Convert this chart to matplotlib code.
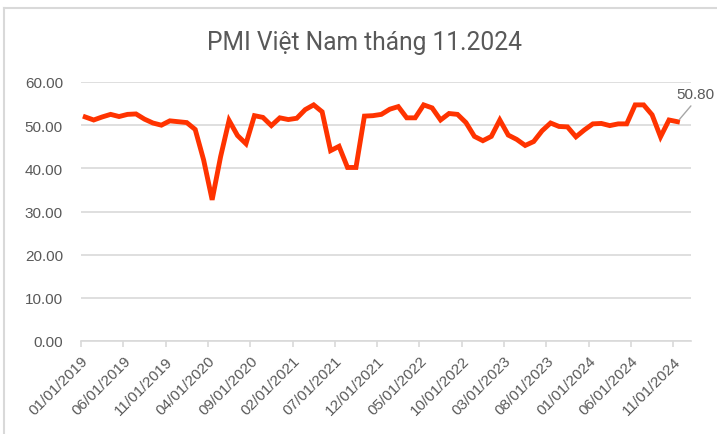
import matplotlib
matplotlib.use("Agg")
import matplotlib.pyplot as plt
from matplotlib.lines import Line2D
import numpy as np

# Monthly PMI values, 01/2019 .. 11/2024
pmi_2019 = [51.9, 51.2, 51.9, 52.5, 52.0, 52.5, 52.6, 51.4, 50.5, 50.0, 51.0, 50.8]
pmi_2020 = [50.6, 49.0, 41.9, 32.7, 42.7, 51.1, 47.6, 45.7, 52.2, 51.8, 49.9, 51.7]
pmi_2021 = [51.3, 51.6, 53.6, 54.7, 53.1, 44.1, 45.1, 40.2, 40.2, 52.1, 52.2, 52.5]
pmi_2022 = [53.7, 54.3, 51.7, 51.7, 54.7, 54.0, 51.2, 52.7, 52.5, 50.6, 47.4, 46.4]
pmi_2023 = [47.4, 51.2, 47.7, 46.7, 45.3, 46.2, 48.7, 50.5, 49.7, 49.6, 47.3, 48.9]
pmi_2024 = [50.3, 50.4, 49.9, 50.3, 50.3, 54.7, 54.7, 52.4, 47.3, 51.2, 50.8]
values = pmi_2019 + pmi_2020 + pmi_2021 + pmi_2022 + pmi_2023 + pmi_2024

tick_labels = ["01/01/2019", "06/01/2019", "11/01/2019", "04/01/2020", "09/01/2020",
               "02/01/2021", "07/01/2021", "12/01/2021", "05/01/2022", "10/01/2022",
               "03/01/2023", "08/01/2023", "01/01/2024", "06/01/2024", "11/01/2024"]
title = "PMI Việt Nam tháng 11.2024"
last_label = "50.80"

# each month is plotted in the middle of its date bin (Excel date axis)
x = np.arange(len(values)) + 0.5

fig = plt.figure(figsize=(7.17, 4.35), dpi=100)
ax = fig.add_axes([81/717, 1 - 342/435, (691 - 81)/717, (342 - 83)/435])

grey_txt = "#595959"
grid_c = "#D9D9D9"

ax.plot(x, values, color="#FF3300", lw=3.5, solid_joinstyle="miter", zorder=3)

ax.set_xlim(0, 72.1)
ax.set_ylim(0, 60)
ax.set_yticks(np.arange(0, 61, 10))
ax.set_yticklabels([f"{v:.2f}" for v in np.arange(0, 61, 10)])
ax.yaxis.grid(True, color=grid_c, lw=1.2)
ax.set_axisbelow(True)
ax.tick_params(axis="y", length=0, pad=13, labelsize=11, labelcolor=grey_txt)

ax.set_xticks(np.arange(0, 71, 5))
ax.set_xticklabels(tick_labels, rotation=45, ha="right", rotation_mode="anchor")
ax.tick_params(axis="x", length=4, width=1.2, color=grid_c, pad=5,
               labelsize=11, labelcolor=grey_txt)

for s in ["top", "right", "left"]:
    ax.spines[s].set_visible(False)
ax.spines["bottom"].set_color(grid_c)
ax.spines["bottom"].set_linewidth(1.2)

for lab in ax.get_xticklabels() + ax.get_yticklabels():
    lab.set_fontfamily(["Liberation Sans", "DejaVu Sans"])

# data label for the last point
ax.annotate(last_label, xy=(x[-1], values[-1]), xycoords="data",
            xytext=(676/717, 1 - 95/435), textcoords="figure fraction",
            ha="left", va="center", fontsize=11, color=grey_txt,
            family=["Liberation Sans", "DejaVu Sans"],
            arrowprops=dict(arrowstyle="-", color="#A6A6A6", lw=1.0,
                            shrinkA=2, shrinkB=2,
                            relpos=(0.5, 0.0)))

fig.text(0.509, 1 - 43/435, title, ha="center", va="center",
         fontsize=17.7, color=grey_txt, family=["Roboto", "DejaVu Sans"])

# chart frame (partially visible)
fig.add_artist(Line2D([4/717, 4/717], [0, 1 - 9/435], transform=fig.transFigure,
                      color=grid_c, lw=1.5))
fig.add_artist(Line2D([4/717, 1], [1 - 9/435, 1 - 9/435], transform=fig.transFigure,
                      color=grid_c, lw=1.5))

fig.savefig("out.png", dpi=100)
